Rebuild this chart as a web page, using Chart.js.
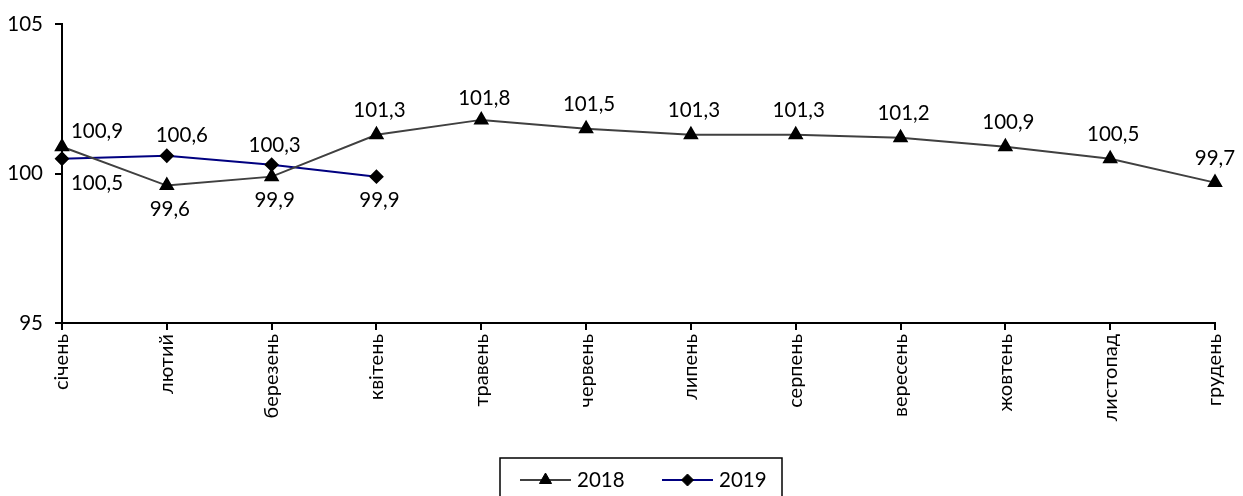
<!DOCTYPE html>
<html><head><meta charset="utf-8">
<script src="https://cdn.jsdelivr.net/npm/chart.js@4"></script>
<style>html,body{margin:0;padding:0;background:#fff}#wrap{width:1243px;height:496px}</style>
</head><body><div id="wrap"><canvas id="c"></canvas></div>
<script>
const categories = ['січень','лютий','березень','квітень','травень','червень','липень','серпень','вересень','жовтень','листопад','грудень'];
const values2018 = [100.9, 99.6, 99.9, 101.3, 101.8, 101.5, 101.3, 101.3, 101.2, 100.9, 100.5, 99.7];
const values2019 = [100.5, 100.6, 100.3, 99.9];
const seriesNames = ['2018', '2019'];
const yTicks = [95, 100, 105];

const FONT = 'Lato, "Open Sans", sans-serif';
// label placement per point: [dx, dy]
const place2018 = [[35,-15],[3,24],[3,24],[3,-24],[3,-21],[3,-24],[3,-24],[3,-24],[3,-24],[3,-24],[3,-24],[0,-24]];
const place2019 = [[35,25],[15,-20],[3,-19],[3,24]];

const labelPlugin = {
  id: 'pointLabels',
  afterDatasetsDraw(chart) {
    const ctx = chart.ctx;
    ctx.save();
    ctx.font = '20.5px ' + FONT;
    ctx.fillStyle = '#000';
    ctx.textAlign = 'center';
    ctx.textBaseline = 'middle';
    const places = [place2018, place2019];
    chart.data.datasets.forEach((ds, i) => {
      chart.getDatasetMeta(i).data.forEach((pt, j) => {
        const p = places[i][j];
        ctx.fillText(String(ds.data[j]).replace('.', ','), pt.x + p[0], pt.y + p[1]);
      });
    });
    ctx.restore();
  }
};

const legendPlugin = {
  id: 'boxLegend',
  afterDraw(chart) {
    const ctx = chart.ctx;
    ctx.save();
    const x0 = 500, y0 = 458, w = 282, h = 42;
    ctx.strokeStyle = '#000'; ctx.lineWidth = 1.5;
    ctx.strokeRect(x0, y0, w, h);
    ctx.font = '20.5px ' + FONT;
    ctx.textBaseline = 'middle';
    ctx.textAlign = 'left';
    const cy = y0 + 22;
    const ds = chart.data.datasets;
    const items = [{x: 520, ds: ds[0], tx: 577}, {x: 662, ds: ds[1], tx: 719}];
    items.forEach(it => {
      ctx.strokeStyle = it.ds.borderColor; ctx.lineWidth = 2;
      ctx.beginPath(); ctx.moveTo(it.x, cy); ctx.lineTo(it.x + 51, cy); ctx.stroke();
      ctx.fillStyle = '#000'; ctx.strokeStyle = '#000'; ctx.lineWidth = 1;
      Chart.helpers.drawPoint(ctx, {pointStyle: it.ds.pointStyle, radius: it.ds.pointRadius, rotation: 0, borderWidth: 1}, it.x + 25.5, cy);
      ctx.fillStyle = '#000';
      ctx.fillText(it.ds.label, it.tx, cy);
    });
    ctx.restore();
  }
};

new Chart(document.getElementById('c'), {
  type: 'line',
  data: {
    labels: categories,
    datasets: [
      { label: seriesNames[0], data: values2018, borderColor: '#404040', borderWidth: 2,
        pointStyle: 'triangle', pointRadius: 7, pointBackgroundColor: '#000', pointBorderColor: '#000', tension: 0 },
      { label: seriesNames[1], data: values2019, borderColor: '#000080', borderWidth: 2,
        pointStyle: 'rectRot', pointRadius: 6, pointBackgroundColor: '#000', pointBorderColor: '#000', tension: 0 }
    ]
  },
  options: {
    responsive: true, maintainAspectRatio: false, animation: false,
    layout: { padding: { top: 22, right: 23, bottom: 73, left: 0 } },
    plugins: { legend: { display: false }, tooltip: { enabled: false } },
    scales: {
      x: {
        offset: false,
        grid: { display: true, drawOnChartArea: false, drawTicks: true, tickLength: 7, color: '#000', lineWidth: 2 },
        border: { display: true, color: '#000', width: 2 },
        ticks: { color: '#000', font: { family: FONT, size: 20 }, minRotation: 90, maxRotation: 90, autoSkip: false, padding: 4 },
        afterFit(s) { s.height = 100; }
      },
      y: {
        min: 95, max: 105,
        afterBuildTicks(s) { s.ticks = yTicks.map(v => ({ value: v })); },
        grid: { display: true, drawOnChartArea: false, drawTicks: true, tickLength: 7, color: '#000', lineWidth: 2 },
        border: { display: true, color: '#000', width: 2 },
        ticks: { color: '#000', font: { family: FONT, size: 20.5 }, padding: 12 },
        afterFit(s) { s.width = 62; }
      }
    }
  },
  plugins: [labelPlugin, legendPlugin]
});
</script>
</body></html>
